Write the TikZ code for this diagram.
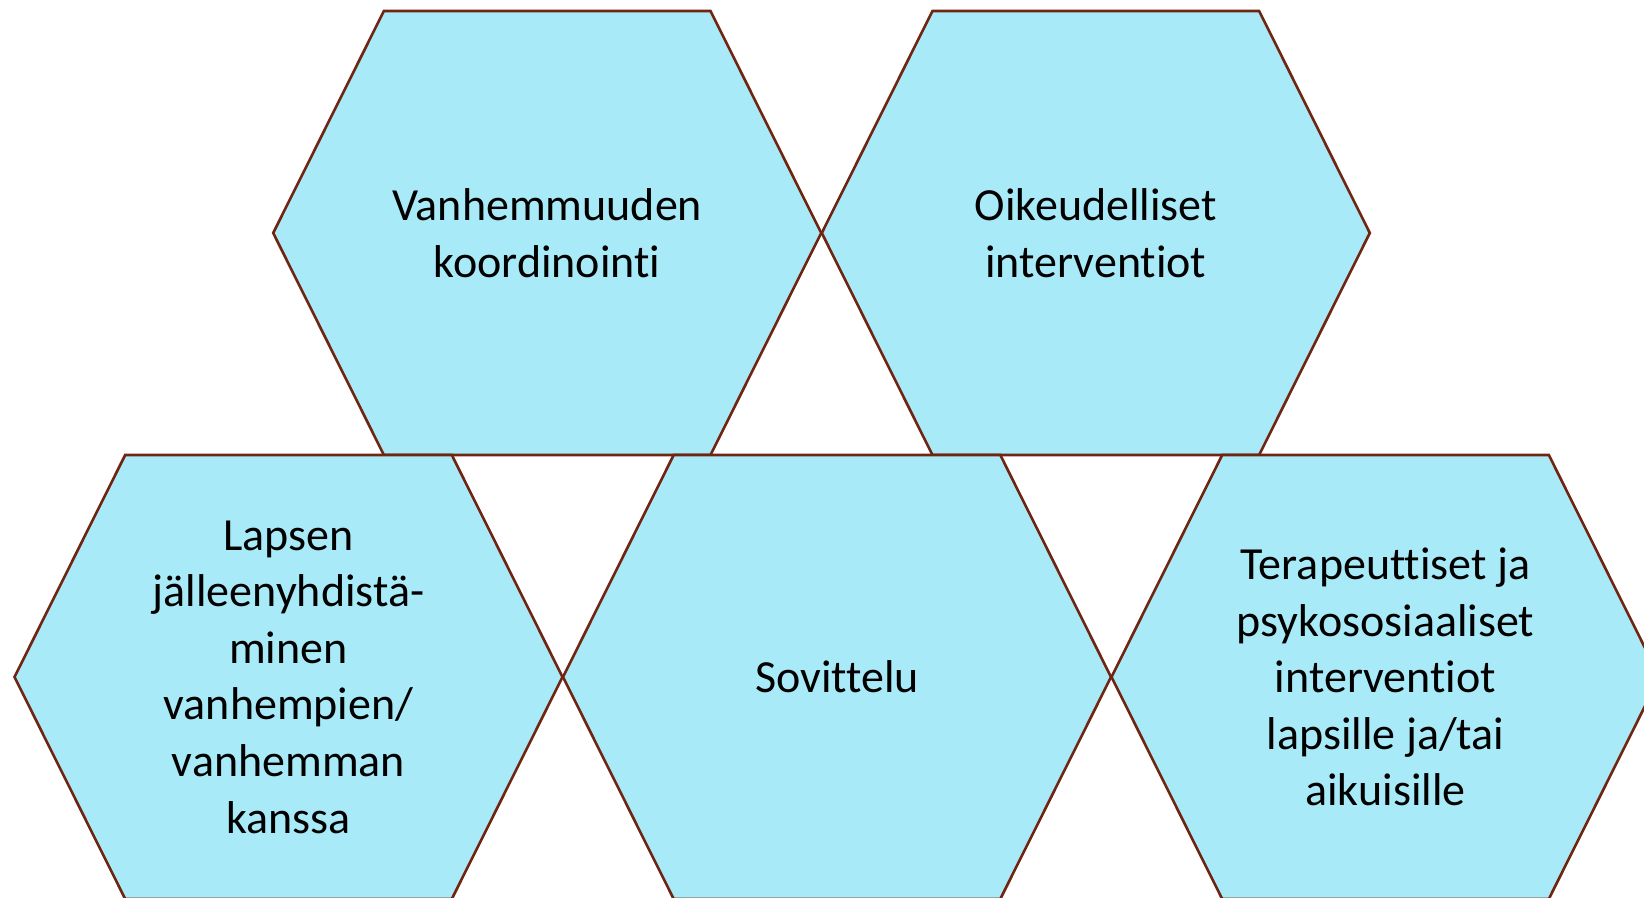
\documentclass[tikz,border=0pt]{standalone}
\usepackage{fontspec}
\setmainfont[Ligatures=NoCommon]{Carlito}
\usetikzlibrary{shapes.symbols}
\definecolor{hexfill}{RGB}{168,234,247}
\definecolor{hexline}{RGB}{112,36,18}

\begin{document}
\begin{tikzpicture}[x=0.5pt,y=0.5pt]
  \tikzset{HexStyle/.style = {
    shape                = signal,
    signal to            = west and east,
    signal pointer angle = 127,
    draw                 = hexline,
    fill                 = hexfill,
    line width           = 1.3pt,
    text                 = black,
    align                = center,
    font                 = \fontsize{23}{28.3}\selectfont,
    inner sep            = 0pt,
    outer sep            = 0pt,
    minimum width        = 274pt,
    minimum height       = 222pt
    }
  }
  \useasboundingbox (0,0) rectangle (1644,898);

	\node[HexStyle](A1) at (547.2, 665) {Vanhemmuuden\\koordinointi};
	\node[HexStyle](A2) at (1095.8, 665) {Oikeudelliset\\interventiot};
	\node[HexStyle](B1) at (288.5, 221) {Lapsen\\jälleenyhdistä-\\minen\\vanhempien/\\vanhemman\\kanssa};
	\node[HexStyle](B2) at (837, 221) {Sovittelu};
	\node[HexStyle](B3) at (1385.5, 221) {Terapeuttiset ja\\psykososiaaliset\\interventiot\\lapsille ja/tai\\aikuisille};

\end{tikzpicture}
\end{document}
